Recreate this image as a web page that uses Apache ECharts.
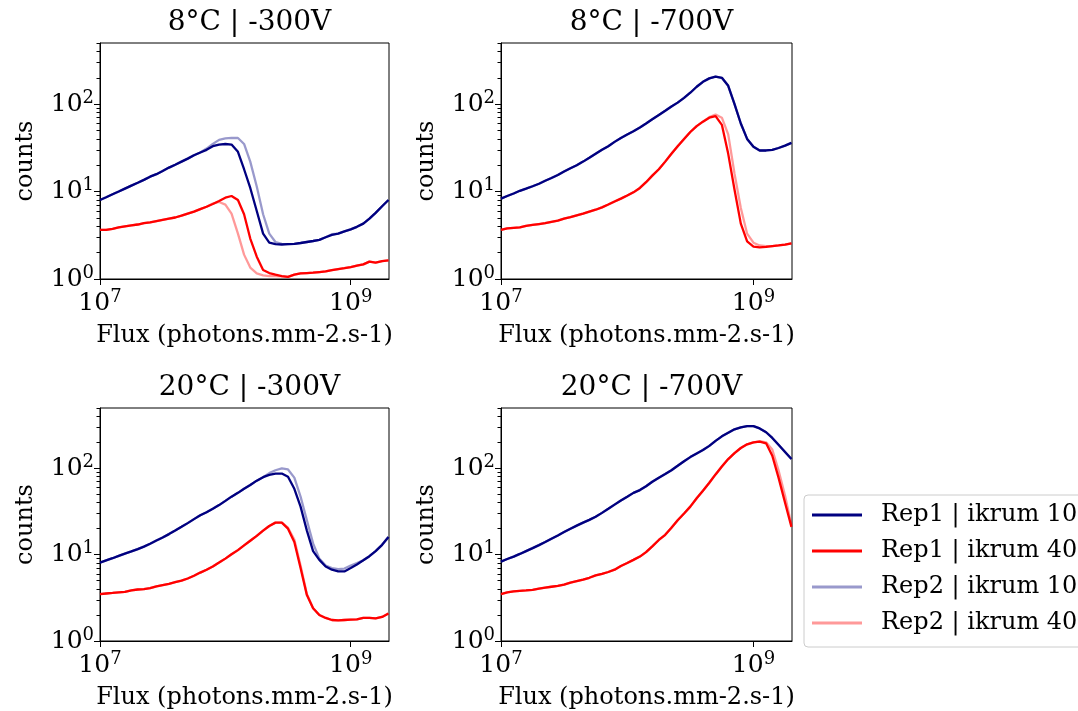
<!DOCTYPE html>
<html>
<head>
<meta charset="utf-8">
<script src="https://cdn.jsdelivr.net/npm/echarts@6/dist/echarts.min.js"></script>
<style>
  html, body { margin: 0; padding: 0; background: #ffffff; }
  #chart { width: 1078px; height: 711px; }
</style>
</head>
<body>
<div id="chart"></div>
<script>
// Flux grid shared by every curve (photons.mm-2.s-1)
const flux = [
  1.00e7, 1.12e7, 1.26e7, 1.41e7, 1.58e7, 1.78e7, 2.00e7, 2.24e7, 2.51e7, 2.82e7,
  3.16e7, 3.55e7, 3.98e7, 4.47e7, 5.01e7, 5.62e7, 6.31e7, 7.08e7, 7.94e7, 8.91e7,
  1.00e8, 1.12e8, 1.26e8, 1.41e8, 1.58e8, 1.78e8, 2.00e8, 2.24e8, 2.51e8, 2.82e8,
  3.16e8, 3.55e8, 3.98e8, 4.47e8, 5.01e8, 5.62e8, 6.31e8, 7.08e8, 7.94e8, 8.91e8,
  1.00e9, 1.12e9, 1.26e9, 1.41e9, 1.58e9, 1.78e9, 2.00e9
];

const panelTitles = ['8°C | -300V', '8°C | -700V', '20°C | -300V', '20°C | -700V'];
const seriesNames = ['Rep1 | ikrum 10', 'Rep1 | ikrum 40', 'Rep2 | ikrum 10', 'Rep2 | ikrum 40'];
const xTickValues = [1e7, 1e9];
const yTickValues = [1, 10, 100];
const yMinorTickValues = [2, 3, 4, 5, 6, 7, 8, 9, 20, 30, 40, 50, 60, 70, 80, 90, 200, 300, 400, 500];

// 8°C | -300V
const t8v300Rep1Ik10 = [
  8.0, 8.6, 9.3, 10.0, 10.8, 11.7, 12.6, 13.6, 14.8, 15.8,
  17.2, 18.8, 20.3, 22.0, 23.8, 26.0, 28.0, 30.0, 33.0, 34.5,
  35.0, 34.5, 28.5, 18.0, 11.0, 6.0, 3.3, 2.6, 2.5, 2.48,
  2.5, 2.52, 2.58, 2.65, 2.72, 2.8, 3.0, 3.2, 3.3, 3.5,
  3.7, 3.95, 4.3, 4.9, 5.7, 6.8, 8.0
];
const t8v300Rep1Ik40 = [
  3.65, 3.65, 3.75, 3.9, 4.0, 4.1, 4.2, 4.35, 4.45, 4.6,
  4.75, 4.9, 5.05, 5.3, 5.6, 5.9, 6.3, 6.7, 7.2, 7.8,
  8.5, 8.9, 8.0, 5.5, 2.9, 1.8, 1.27, 1.17, 1.12, 1.08,
  1.06, 1.12, 1.16, 1.17, 1.18, 1.2, 1.22, 1.26, 1.3, 1.33,
  1.37, 1.42, 1.47, 1.58, 1.54, 1.6, 1.63
];
const t8v300Rep2Ik10 = [
  8.0, 8.6, 9.3, 10.0, 10.8, 11.7, 12.6, 13.6, 14.8, 15.8,
  17.2, 18.8, 20.3, 22.0, 23.8, 26.0, 28.0, 31.0, 35.0, 39.0,
  40.5, 41.0, 41.0, 35.0, 22.0, 11.4, 5.5, 3.3, 2.65, 2.52,
  2.5, 2.52, 2.58, 2.65, 2.72, 2.8, 3.0, 3.25, 3.3, 3.5,
  3.7, 3.95, 4.3, 4.9, 5.7, 6.8, 8.0
];
const t8v300Rep2Ik40 = [
  3.65, 3.65, 3.75, 3.9, 4.0, 4.1, 4.2, 4.35, 4.45, 4.6,
  4.75, 4.9, 5.05, 5.3, 5.6, 5.9, 6.3, 6.7, 7.3, 7.6,
  7.1, 5.6, 3.3, 1.9, 1.35, 1.16, 1.1, 1.08, 1.08, 1.07,
  1.06, 1.12, 1.16, 1.17, 1.18, 1.2, 1.22, 1.26, 1.3, 1.33,
  1.37, 1.42, 1.47, 1.58, 1.54, 1.6, 1.63
];

// 8°C | -700V
const t8v700Rep1Ik10 = [
  8.3, 8.9, 9.5, 10.2, 10.8, 11.5, 12.3, 13.3, 14.3, 15.5,
  17.0, 18.5, 20.0, 22.0, 24.3, 27.0, 30.0, 33.0, 37.0, 41.0,
  45.0, 49.0, 54.0, 60.0, 67.0, 75.0, 84.0, 94.0, 104, 118,
  135, 158, 180, 197, 206, 200, 162, 100, 60.0, 40.0,
  32.5, 29.5, 29.5, 30.0, 31.5, 33.5, 36.0
];
const t8v700Rep1Ik40 = [
  3.65, 3.8, 3.85, 3.9, 4.05, 4.15, 4.25, 4.35, 4.5, 4.65,
  4.9, 5.1, 5.35, 5.6, 5.9, 6.2, 6.6, 7.1, 7.7, 8.3,
  9.0, 9.8, 11.0, 12.8, 15.2, 18.0, 22.0, 27.0, 33.0, 40.0,
  48.0, 56.0, 63.0, 70.0, 73.0, 58.0, 27.0, 10.5, 4.3, 2.7,
  2.35, 2.3, 2.33, 2.38, 2.42, 2.47, 2.55
];
const t8v700Rep2Ik10 = [
  8.3, 8.9, 9.5, 10.2, 10.8, 11.5, 12.3, 13.3, 14.3, 15.5,
  17.0, 18.5, 20.0, 22.0, 24.3, 27.0, 30.0, 33.0, 37.0, 41.0,
  45.0, 49.0, 54.0, 60.0, 67.0, 75.0, 84.0, 94.0, 104, 118,
  135, 158, 180, 197, 206, 200, 162, 100, 60.0, 40.0,
  32.5, 29.5, 29.5, 30.0, 31.5, 33.5, 36.0
];
const t8v700Rep2Ik40 = [
  3.65, 3.8, 3.85, 3.9, 4.05, 4.15, 4.25, 4.35, 4.5, 4.65,
  4.9, 5.1, 5.35, 5.6, 5.9, 6.2, 6.6, 7.1, 7.7, 8.3,
  9.0, 9.8, 11.0, 12.8, 15.2, 18.0, 22.0, 27.0, 33.0, 40.0,
  48.0, 56.0, 63.0, 71.0, 76.0, 70.0, 45.0, 16.0, 6.5, 3.3,
  2.6, 2.42, 2.38, 2.38, 2.42, 2.47, 2.55
];

// 20°C | -300V
const t20v300Rep1Ik10 = [
  8.1, 8.6, 9.1, 9.7, 10.3, 10.9, 11.6, 12.4, 13.4, 14.6,
  15.8, 17.3, 19.0, 21.0, 23.2, 25.8, 28.6, 31.0, 34.0, 37.5,
  42.0, 47.0, 52.0, 58.0, 64.0, 72.0, 79.0, 84.0, 87.0, 87.0,
  80.0, 58.0, 36.0, 19.0, 11.0, 8.7, 7.3, 6.7, 6.4, 6.4,
  7.0, 7.7, 8.6, 9.6, 11.0, 13.0, 16.0
];
const t20v300Rep1Ik40 = [
  3.5, 3.55, 3.6, 3.65, 3.7, 3.85, 3.95, 4.0, 4.1, 4.3,
  4.45, 4.6, 4.8, 5.0, 5.3, 5.7, 6.2, 6.7, 7.3, 8.1,
  9.0, 10.1, 11.3, 12.8, 14.5, 16.5, 19.0, 21.5, 23.5, 23.5,
  20.0, 14.0, 7.0, 3.4, 2.4, 2.0, 1.85, 1.75, 1.73, 1.75,
  1.77, 1.78, 1.85, 1.85, 1.83, 1.9, 2.08
];
const t20v300Rep2Ik10 = [
  8.1, 8.6, 9.1, 9.7, 10.3, 10.9, 11.6, 12.4, 13.4, 14.6,
  15.8, 17.3, 19.0, 21.0, 23.2, 25.8, 28.6, 31.0, 34.0, 37.5,
  42.0, 47.0, 52.0, 58.0, 64.0, 72.0, 79.0, 88.0, 95.0, 100,
  97.0, 78.0, 47.0, 25.0, 13.5, 9.0, 7.5, 7.0, 6.8, 6.9,
  7.5, 8.0, 8.6, 9.6, 11.0, 13.0, 16.0
];
const t20v300Rep2Ik40 = [
  3.5, 3.55, 3.6, 3.65, 3.7, 3.85, 3.95, 4.0, 4.1, 4.3,
  4.45, 4.6, 4.8, 5.0, 5.3, 5.7, 6.2, 6.7, 7.3, 8.1,
  9.0, 10.1, 11.3, 12.8, 14.5, 16.5, 19.0, 21.5, 23.5, 23.5,
  20.5, 15.0, 7.5, 3.5, 2.4, 2.0, 1.85, 1.75, 1.73, 1.75,
  1.77, 1.78, 1.85, 1.85, 1.83, 1.9, 2.08
];

// 20°C | -700V
const t20v700Rep1Ik10 = [
  8.3, 8.9, 9.5, 10.2, 11.0, 11.9, 12.9, 14.0, 15.3, 16.7,
  18.3, 20.0, 21.7, 23.5, 25.3, 27.5, 30.5, 34.0, 38.0, 42.5,
  47.0, 52.0, 56.0, 62.0, 70.0, 78.0, 86.0, 95.0, 107, 121,
  135, 149, 163, 182, 208, 235, 258, 283, 298, 308,
  308, 290, 262, 225, 188, 155, 128
];
const t20v700Rep1Ik40 = [
  3.5, 3.65, 3.75, 3.8, 3.85, 3.92, 4.05, 4.15, 4.25, 4.35,
  4.5, 4.75, 4.95, 5.15, 5.4, 5.75, 6.0, 6.3, 6.7, 7.4,
  8.0, 8.7, 9.5, 10.7, 12.5, 14.8, 17.0, 20.5, 25.0, 30.0,
  36.0, 45.0, 55.0, 68.0, 85.0, 105, 128, 150, 172, 190,
  200, 204, 195, 140, 78.0, 40.0, 21.0
];
const t20v700Rep2Ik10 = [
  8.3, 8.9, 9.5, 10.2, 11.0, 11.9, 12.9, 14.0, 15.3, 16.7,
  18.3, 20.0, 21.7, 23.5, 25.3, 27.5, 30.5, 34.0, 38.0, 42.5,
  47.0, 52.0, 56.0, 62.0, 70.0, 78.0, 86.0, 95.0, 107, 121,
  135, 149, 163, 182, 208, 235, 258, 283, 298, 308,
  308, 290, 262, 225, 188, 155, 128
];
const t20v700Rep2Ik40 = [
  3.5, 3.65, 3.75, 3.8, 3.85, 3.92, 4.05, 4.15, 4.25, 4.35,
  4.5, 4.75, 4.95, 5.15, 5.4, 5.75, 6.0, 6.3, 6.7, 7.4,
  8.0, 8.7, 9.5, 10.7, 12.5, 14.8, 17.0, 20.5, 25.0, 30.0,
  36.0, 45.0, 55.0, 68.0, 85.0, 105, 128, 150, 172, 190,
  200, 206, 200, 165, 95.0, 48.0, 22.0
];

const panels = [
  [t8v300Rep1Ik10, t8v300Rep1Ik40, t8v300Rep2Ik10, t8v300Rep2Ik40],
  [t8v700Rep1Ik10, t8v700Rep1Ik40, t8v700Rep2Ik10, t8v700Rep2Ik40],
  [t20v300Rep1Ik10, t20v300Rep1Ik40, t20v300Rep2Ik10, t20v300Rep2Ik40],
  [t20v700Rep1Ik10, t20v700Rep1Ik40, t20v700Rep2Ik10, t20v700Rep2Ik40]
];

const lineColors = ['#000080', '#ff0000', 'rgba(0,0,128,0.4)', 'rgba(255,0,0,0.4)'];
const FONT = 'DejaVu Serif';

const gridBoxes = [
  { left: 100, top: 43, width: 289, height: 236 },
  { left: 501, top: 43, width: 291, height: 236 },
  { left: 100, top: 408, width: 289, height: 234 },
  { left: 501, top: 408, width: 291, height: 234 }
];

// tick labels written as powers of ten with a raised exponent
function powerLabel(value) {
  const exp = Math.round(Math.log10(value));
  return '{b|10}{s|' + exp + '}';
}
const powerRich = {
  b: { fontFamily: FONT, fontSize: 25, color: '#000', lineHeight: 30, verticalAlign: 'middle' },
  s: { fontFamily: FONT, fontSize: 18, color: '#000', lineHeight: 18, verticalAlign: 'top' }
};

const grid = [], xAxis = [], yAxis = [], title = [], series = [];

gridBoxes.forEach((g, p) => {
  grid.push({
    left: g.left, top: g.top, width: g.width, height: g.height,
    show: true, borderColor: '#000', borderWidth: 1, backgroundColor: 'transparent'
  });
  title.push({
    text: panelTitles[p],
    left: g.left + g.width / 2,
    top: g.top - 39,
    textAlign: 'center',
    textStyle: { fontFamily: FONT, fontSize: 28, fontWeight: 'normal', color: '#000' }
  });
  xAxis.push({
    type: 'log', logBase: 10, gridIndex: p,
    min: 1e7, max: 2.02e9,
    name: 'Flux (photons.mm-2.s-1)', nameLocation: 'middle', nameGap: 45,
    nameTextStyle: { fontFamily: FONT, fontSize: 24, color: '#000' },
    axisLine: { show: true, lineStyle: { color: '#000', width: 1 } },
    axisTick: { show: true, length: 6, customValues: xTickValues, lineStyle: { color: '#000' } },
    axisLabel: { customValues: xTickValues, formatter: powerLabel, rich: powerRich, margin: 9 },
    splitLine: { show: false }, minorTick: { show: false }
  });
  yAxis.push({
    type: 'log', logBase: 10, gridIndex: p, position: 'left',
    min: 1, max: 500,
    name: 'counts', nameLocation: 'middle', nameGap: 62, nameRotate: 90,
    nameTextStyle: { fontFamily: FONT, fontSize: 24, color: '#000' },
    axisLine: { show: true, lineStyle: { color: '#000', width: 1 } },
    axisTick: { show: true, length: 6, customValues: yTickValues, lineStyle: { color: '#000' } },
    axisLabel: { customValues: yTickValues, formatter: powerLabel, rich: powerRich, margin: 6 },
    splitLine: { show: false }, minorTick: { show: false }
  });
  // minor log ticks on the count axis
  yAxis.push({
    type: 'log', logBase: 10, gridIndex: p, position: 'left', offset: 0,
    min: 1, max: 500,
    axisLine: { show: false },
    axisTick: { show: true, length: 3.5, customValues: yMinorTickValues, lineStyle: { color: '#000' } },
    axisLabel: { show: false },
    splitLine: { show: false }, minorTick: { show: false }
  });
  panels[p].forEach((vals, s) => {
    series.push({
      type: 'line',
      name: seriesNames[s],
      xAxisIndex: p,
      yAxisIndex: p * 2,
      data: flux.map((f, i) => [f, vals[i]]),
      symbol: 'none',
      showSymbol: false,
      smooth: false,
      color: lineColors[s],
      lineStyle: { color: lineColors[s], width: 2.3 },
      emphasis: { disabled: true },
      z: 2 + s
    });
  });
});

const chart = echarts.init(document.getElementById('chart'), null, { renderer: 'canvas' });
chart.setOption({
  backgroundColor: '#ffffff',
  animation: false,
  title: title,
  grid: grid,
  xAxis: xAxis,
  yAxis: yAxis,
  legend: {
    data: seriesNames,
    orient: 'vertical',
    left: 804, top: 495,
    icon: 'rect',
    itemWidth: 50, itemHeight: 3, itemGap: 12,
    padding: [8, 40, 12, 8],
    borderColor: '#cccccc', borderWidth: 1, borderRadius: 4,
    backgroundColor: '#ffffff',
    formatter: name => '{t|' + name + '}',
    textStyle: {
      fontFamily: FONT, fontSize: 24, color: '#000', lineHeight: 24,
      rich: { t: { fontFamily: FONT, fontSize: 24, color: '#000', lineHeight: 24, padding: [0, 0, 0, 14] } }
    },
    selectedMode: false
  },
  series: series
});
</script>
</body>
</html>
